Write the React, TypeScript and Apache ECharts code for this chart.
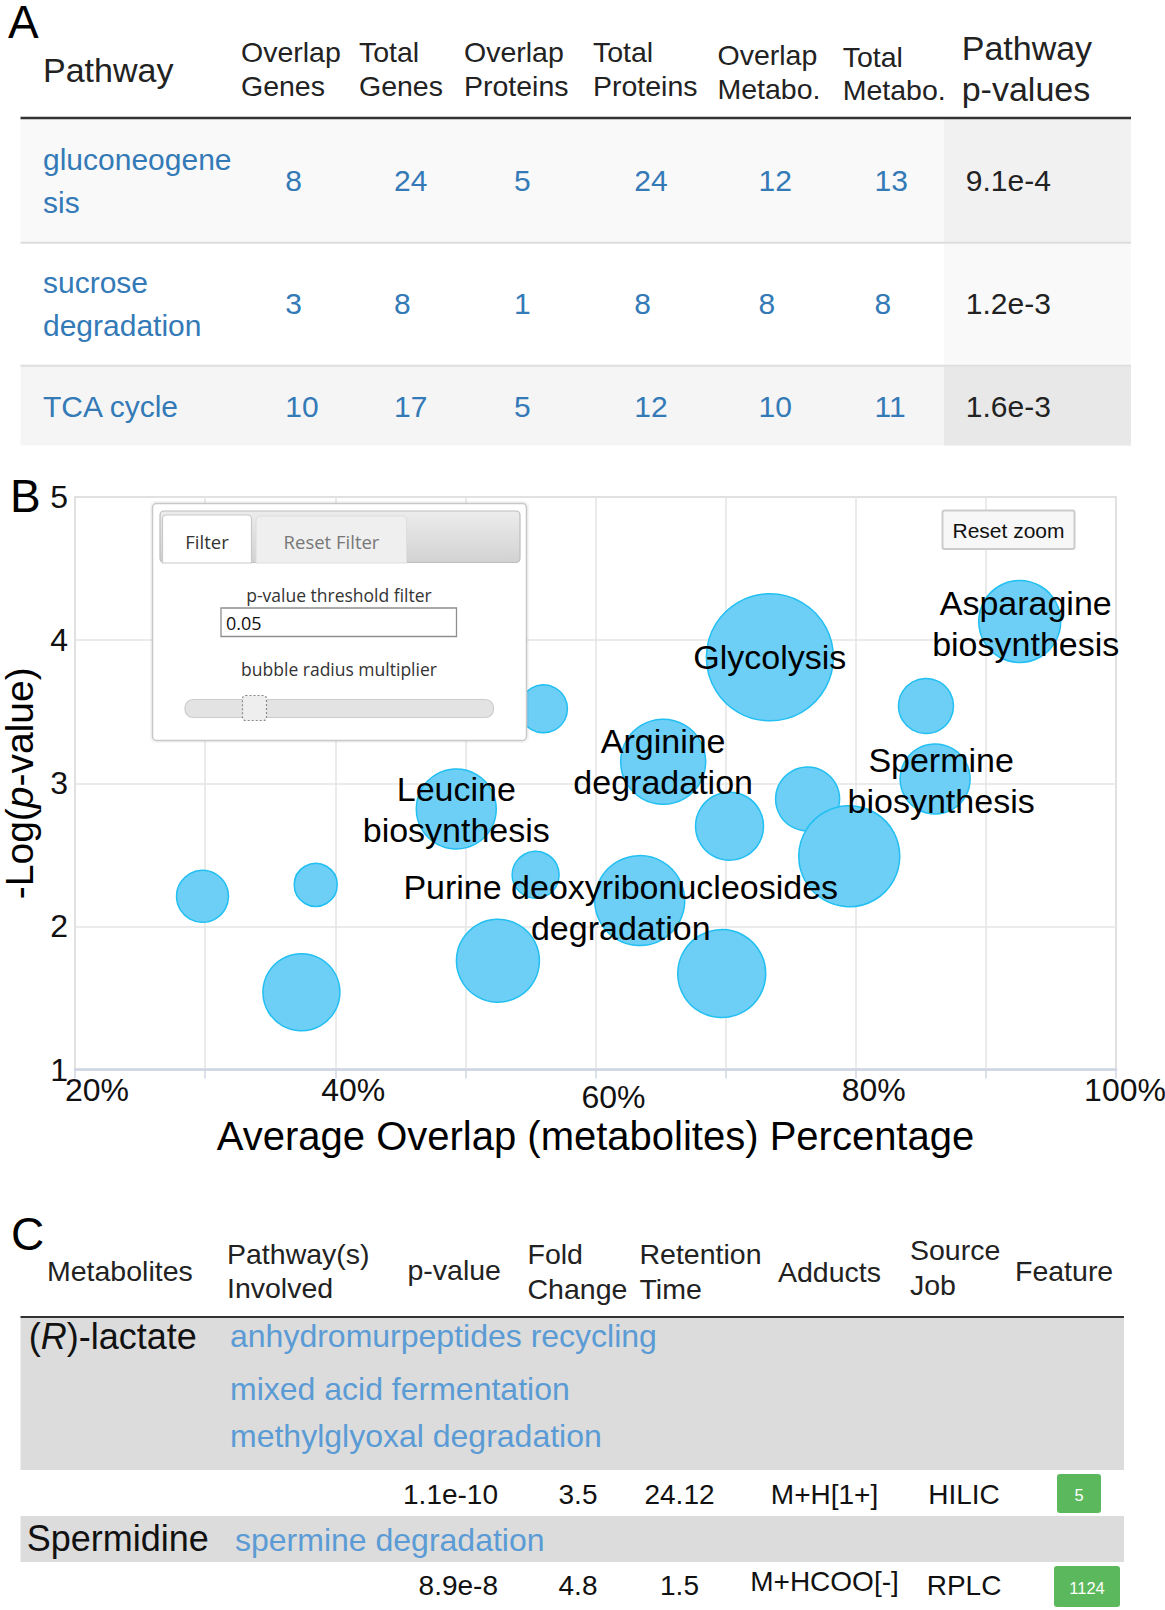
import React, { useEffect, useRef } from "react";
import * as echarts from "echarts";

// ---------------- Panel A data ----------------
const tableAHeaders = [
  ["Pathway"],
  ["Overlap", "Genes"],
  ["Total", "Genes"],
  ["Overlap", "Proteins"],
  ["Total", "Proteins"],
  ["Overlap", "Metabo."],
  ["Total", "Metabo."],
  ["Pathway", "p-values"],
];
const pathwayNames = [["gluconeogene", "sis"], ["sucrose", "degradation"], ["TCA cycle"]];
const overlapGenes = [8, 3, 10];
const totalGenes = [24, 8, 17];
const overlapProteins = [5, 1, 5];
const totalProteins = [24, 8, 12];
const overlapMetabolites = [12, 8, 10];
const totalMetabolites = [13, 8, 11];
const pathwayPValues = ["9.1e-4", "1.2e-3", "1.6e-3"];

// ---------------- Panel B data ----------------
const overlapPercent = [29.8, 38.5, 37.4, 49.3, 56.0, 55.4, 52.5, 63.4, 65.2, 73.4, 70.3, 69.7, 76.3, 79.5, 85.4, 86.1, 92.6];
const negLogP = [2.21, 2.29, 1.54, 2.82, 3.52, 2.36, 1.76, 2.18, 3.15, 3.88, 2.70, 1.67, 2.89, 2.49, 3.54, 3.03, 4.13];
const bubbleRadius = [26, 21.5, 38.5, 40, 24, 23.5, 41.5, 45, 42.5, 63.5, 34, 44, 32, 50.5, 27.5, 35, 41];
const bubbleNames = [
  "", "", "", "Leucine\nbiosynthesis", "", "", "", "Purine deoxyribonucleosides\ndegradation",
  "Arginine\ndegradation", "Glycolysis", "", "", "", "", "", "Spermine\nbiosynthesis", "Asparagine\nbiosynthesis",
];
const xLabelValues = [20, 40, 60, 80, 100];
const pValueThreshold = "0.05";

// ---------------- Panel C data ----------------
const tableCHeaders = [
  ["Metabolites"],
  ["Pathway(s)", "Involved"],
  ["p-value"],
  ["Fold", "Change"],
  ["Retention", "Time"],
  ["Adducts"],
  ["Source", "Job"],
  ["Feature"],
];
const metaboliteNames = ["({i|R})-lactate", "Spermidine"];
const metabolitePathways = [
  ["anhydromurpeptides recycling", "mixed acid fermentation", "methylglyoxal degradation"],
  ["spermine degradation"],
];
const metabolitePValues = ["1.1e-10", "8.9e-8"];
const foldChanges = ["3.5", "4.8"];
const retentionTimes = ["24.12", "1.5"];
const adductList = ["M+H[1+]", "M+HCOO[-]"];
const sourceJobs = ["HILIC", "RPLC"];
const featureIds = ["5", "1124"];

// ---------------- helpers ----------------
const FONT = "'Liberation Sans', Arial, Helvetica, sans-serif";
const UIFONT = "'Open Sans', 'DejaVu Sans', sans-serif";
const LINK = "#337ab7";
const LINK_C = "#5b9bd5";

function txt(x: number, y: number, text: string, size: number, fill = "#222", align = "left", extra: any = {}, z = 60) {
  return {
    type: "text",
    x,
    y,
    z,
    silent: true,
    style: {
      text,
      fontSize: size,
      fontFamily: FONT,
      fill,
      textAlign: align,
      textVerticalAlign: "middle",
      ...extra,
    },
  };
}
function rect(x: number, y: number, w: number, h: number, style: any, r: any = 0, z = 40) {
  return { type: "rect", z, silent: true, shape: { x, y, width: w, height: h, r }, style };
}
function hline(x1: number, x2: number, y: number, stroke: string, lw: number, z = 45) {
  return { type: "line", z, silent: true, shape: { x1, y1: y, x2, y2: y }, style: { stroke, lineWidth: lw } };
}

function buildTableA(): any[] {
  const els: any[] = [];
  els.push(txt(8, 22, "A", 46, "#000"));
  // header
  const hx = [43, 241, 359, 464, 593, 717.5, 842.7, 961.7];
  const hy = [[70], [52, 86], [52, 86], [52, 86], [52, 86], [54.5, 89], [56.5, 90], [48, 89]];
  tableAHeaders.forEach((lines, i) => {
    const size = i === 0 || i === 7 ? 34 : 28.5;
    lines.forEach((l, j) => els.push(txt(hx[i], hy[i][j], l, size, "#222")));
  });
  // row backgrounds
  const rowTop = [119, 243.5, 366.5];
  const rowBot = [242.5, 365.5, 445.5];
  const rowFill = ["#f9f9f9", "#ffffff", "#f5f5f5"];
  const pFill = ["#f1f1f1", "#f9f9f9", "#e8e8e8"];
  rowTop.forEach((t, i) => {
    els.push(rect(20.5, t, 1110.5, rowBot[i] - t, { fill: rowFill[i] }, 0, 30));
    els.push(rect(944, t, 187, rowBot[i] - t, { fill: pFill[i] }, 0, 31));
  });
  els.push(hline(20.5, 1131, 242.8, "#dddddd", 2));
  els.push(hline(20.5, 1131, 365.8, "#dddddd", 2));
  els.push(hline(20.5, 1131, 118, "#333333", 2.5));
  // rows
  const rowY = [180.6, 303.8, 406.5];
  const nameY = [[159, 202], [282, 325.4], [406.5]];
  const numX = [285.3, 394, 514, 634.3, 758.5, 874.5];
  const cols = [overlapGenes, totalGenes, overlapProteins, totalProteins, overlapMetabolites, totalMetabolites];
  pathwayNames.forEach((lines, r) => {
    lines.forEach((l, j) => els.push(txt(43, nameY[r][j], l, 30, LINK)));
    cols.forEach((col, c) => els.push(txt(numX[c], rowY[r], String(col[r]), 30, LINK)));
    els.push(txt(965.8, rowY[r], pathwayPValues[r], 30, "#222"));
  });
  return els;
}

function buildFilterPanel(): any[] {
  const els: any[] = [];
  const z = 80;
  els.push(rect(150, 501, 379, 242, { fill: "rgba(0,0,0,0.04)" }, 5, z - 1));
  els.push(rect(152.5, 503.5, 374, 237, { fill: "#ffffff", stroke: "#c8c8c8", lineWidth: 1.5 }, 4, z));
  els.push(
    rect(
      160,
      511,
      360,
      51.5,
      {
        fill: new echarts.graphic.LinearGradient(0, 0, 0, 1, [
          { offset: 0, color: "#ececec" },
          { offset: 1, color: "#d2d2d2" },
        ]),
        stroke: "#bdbdbd",
        lineWidth: 1.2,
      },
      4,
      z + 1
    )
  );
  els.push(rect(162.5, 515, 89, 48, { fill: "#ffffff", stroke: "#c9c9c9", lineWidth: 1.2 }, [4, 4, 0, 0], z + 2));
  els.push(rect(256, 516, 150.5, 47, { fill: "#efefef", stroke: "#dedede", lineWidth: 1 }, [4, 4, 0, 0], z + 2));
  els.push({ ...txt(207, 541, "Filter", 18.5, "#333", "center", { fontFamily: UIFONT }, z + 3) });
  els.push({ ...txt(331.5, 541, "Reset Filter", 18.5, "#777", "center", { fontFamily: UIFONT }, z + 3) });
  els.push({ ...txt(339, 594.5, "p-value threshold filter", 17.5, "#333", "center", { fontFamily: UIFONT }, z + 3) });
  els.push(rect(221, 608, 235.5, 28.5, { fill: "#ffffff", stroke: "#8f8f8f", lineWidth: 1.3 }, 0, z + 2));
  els.push({ ...txt(226, 622.5, pValueThreshold, 18, "#111", "left", { fontFamily: UIFONT }, z + 3) });
  els.push({ ...txt(339, 669, "bubble radius multiplier", 17.5, "#333", "center", { fontFamily: UIFONT }, z + 3) });
  els.push(rect(185, 699.5, 308.5, 18, { fill: "#e3e3e3", stroke: "#cccccc", lineWidth: 1.2 }, 8, z + 2));
  els.push(rect(242.5, 695.5, 24, 25, { fill: "#eeeeee", stroke: "#8a8a8a", lineWidth: 1.2, lineDash: [2, 2] }, 3, z + 3));
  return els;
}

function buildResetZoom(): any[] {
  return [
    rect(942.5, 510.5, 132, 38.5, { fill: "#f7f7f7", stroke: "#cccccc", lineWidth: 2 }, 2, 80),
    txt(1008.5, 530, "Reset zoom", 21, "#111", "center", {}, 81),
  ];
}

function buildTableC(): any[] {
  const els: any[] = [];
  els.push(txt(11, 1234, "C", 46, "#000"));
  const hx = [47, 227, 407.5, 527.5, 639.5, 778, 910, 1015];
  const hy = [[1271], [1254, 1288], [1270], [1254, 1289], [1254, 1289], [1272], [1250, 1285], [1271]];
  tableCHeaders.forEach((lines, i) => {
    lines.forEach((l, j) => els.push(txt(hx[i], hy[i][j], l, 28.5, "#222")));
  });
  // grey metabolite rows
  const greyTop = [1318, 1516];
  const greyBot = [1470, 1562];
  greyTop.forEach((t, i) => els.push(rect(20.5, t, 1103.5, greyBot[i] - t, { fill: "#dcdcdc" }, 0, 30)));
  els.push(hline(20.5, 1124, 1317, "#333333", 2.2));
  // metabolite names + pathways
  const nameX = [28.7, 26.7];
  const nameY = [1336, 1538.6];
  const pathX = [230, 235];
  const pathY = [[1335.5, 1388.7, 1436], [1539.6]];
  metaboliteNames.forEach((n, r) => {
    els.push(
      txt(nameX[r], nameY[r], n, 36, "#111", "left", {
        rich: { i: { fontStyle: "italic", fontSize: 36, fontFamily: FONT, fill: "#111" } },
      })
    );
    metabolitePathways[r].forEach((p, j) => els.push(txt(pathX[r], pathY[r][j], p, 32, LINK_C)));
  });
  // values
  const valY = [1494.5, 1585.8];
  valY.forEach((y, r) => {
    els.push(txt(498, y, metabolitePValues[r], 28, "#111", "right"));
    els.push(txt(578, y, foldChanges[r], 28, "#111", "center"));
    els.push(txt(679.5, y, retentionTimes[r], 28, "#111", "center"));
    els.push(txt(824.5, r === 1 ? y - 4 : y, adductList[r], 28, "#111", "center"));
    els.push(txt(964, y, sourceJobs[r], 28, "#111", "center"));
  });
  const boxX = [1057, 1054];
  const boxY = [1474, 1566];
  const boxW = [44, 66];
  const boxH = [39, 41];
  featureIds.forEach((f, r) => {
    els.push(rect(boxX[r], boxY[r], boxW[r], boxH[r], { fill: "#5cb85c" }, 3, 40));
    els.push(txt(boxX[r] + boxW[r] / 2, boxY[r] + boxH[r] / 2 + 1, f, 16.5, "#ffffff", "center", {}, 41));
  });
  return els;
}

export default function App() {
  const ref = useRef<HTMLDivElement>(null);
  useEffect(() => {
    document.body.style.margin = "0";
    if (!ref.current) return;
    const chart = echarts.init(ref.current, undefined, { renderer: "svg" });

    const bubbleData = overlapPercent.map((x, i) => {
      const item: any = { name: bubbleNames[i], value: [x, negLogP[i], bubbleRadius[i]] };
      if (bubbleNames[i]) {
        item.label = { show: true };
        if (i === 7) item.label.offset = [-19, 7];
        if (i === 15 || i === 16) item.label.offset = [6, 2];
      }
      return item;
    });

    const option: any = {
      animation: false,
      backgroundColor: "#ffffff",
      textStyle: { fontFamily: FONT },
      grid: {
        left: 75,
        top: 497,
        width: 1041,
        height: 572.5,
        show: true,
        borderColor: "#cccccc",
        borderWidth: 1.5,
        backgroundColor: "transparent",
        containLabel: false,
        outerBoundsMode: "none",
      },
      xAxis: {
        type: "value",
        min: 20,
        max: 100,
        interval: 10,
        name: "Average Overlap (metabolites) Percentage",
        nameLocation: "middle",
        nameGap: 46,
        nameTextStyle: { fontSize: 40, color: "#000", fontFamily: FONT },
        axisLine: { show: true, lineStyle: { color: "#cfd6e3", width: 2.5 } },
        axisTick: { show: true, length: 9, lineStyle: { color: "#cfd6e3", width: 1.5 } },
        splitLine: { show: true, lineStyle: { color: "#e4e4e4", width: 1.5 } },
        axisLabel: {
          margin: 4,
          fontSize: 32,
          color: "#111",
          formatter: (v: number) => {
            if (!xLabelValues.includes(v)) return "";
            if (v === 60) return "{m|" + v + "%}";
            if (v === 100) return "{e|" + v + "%}";
            if (v === 20) return "{f|" + v + "%}";
            return "{n|" + v + "%}";
          },
          rich: {
            f: { fontSize: 32, color: "#111", fontFamily: FONT, padding: [0, 0, 0, 44] },
            n: { fontSize: 32, color: "#111", fontFamily: FONT, padding: [0, 0, 0, 36] },
            m: { fontSize: 32, color: "#111", fontFamily: FONT, padding: [7, 0, 0, 36] },
            e: { fontSize: 32, color: "#111", fontFamily: FONT, padding: [0, 0, 0, 18] },
          },
        },
      },
      yAxis: {
        type: "value",
        min: 1,
        max: 5,
        interval: 1,
        name: "-Log({i|p}-value)",
        nameLocation: "middle",
        nameGap: 33,
        nameTextStyle: {
          fontSize: 39,
          lineHeight: 40,
          color: "#000",
          fontFamily: FONT,
          rich: { i: { fontSize: 39, lineHeight: 40, fontStyle: "italic", color: "#000", fontFamily: FONT } },
        },
        axisLine: { show: false },
        axisTick: { show: false },
        splitLine: { show: true, lineStyle: { color: "#e4e4e4", width: 1.5 } },
        axisLabel: { margin: 7, fontSize: 32, color: "#111" },
      },
      series: [
        {
          type: "scatter",
          data: bubbleData,
          symbolSize: (val: number[]) => val[2] * 2,
          itemStyle: { color: "#6dcff6", borderColor: "#22bff2", borderWidth: 1.5, opacity: 1 },
          label: {
            show: false,
            position: "inside",
            formatter: "{b}",
            fontSize: 34,
            lineHeight: 41,
            color: "#000",
            fontFamily: FONT,
          },
          emphasis: { disabled: true },
          z: 5,
        },
      ],
      graphic: [...buildTableA(), ...buildFilterPanel(), ...buildResetZoom(), txt(10, 495.5, "B", 46, "#000"), ...buildTableC()],
    };
    chart.setOption(option);
    return () => chart.dispose();
  }, []);
  return <div ref={ref} style={{ width: 1165, height: 1610 }} />;
}
